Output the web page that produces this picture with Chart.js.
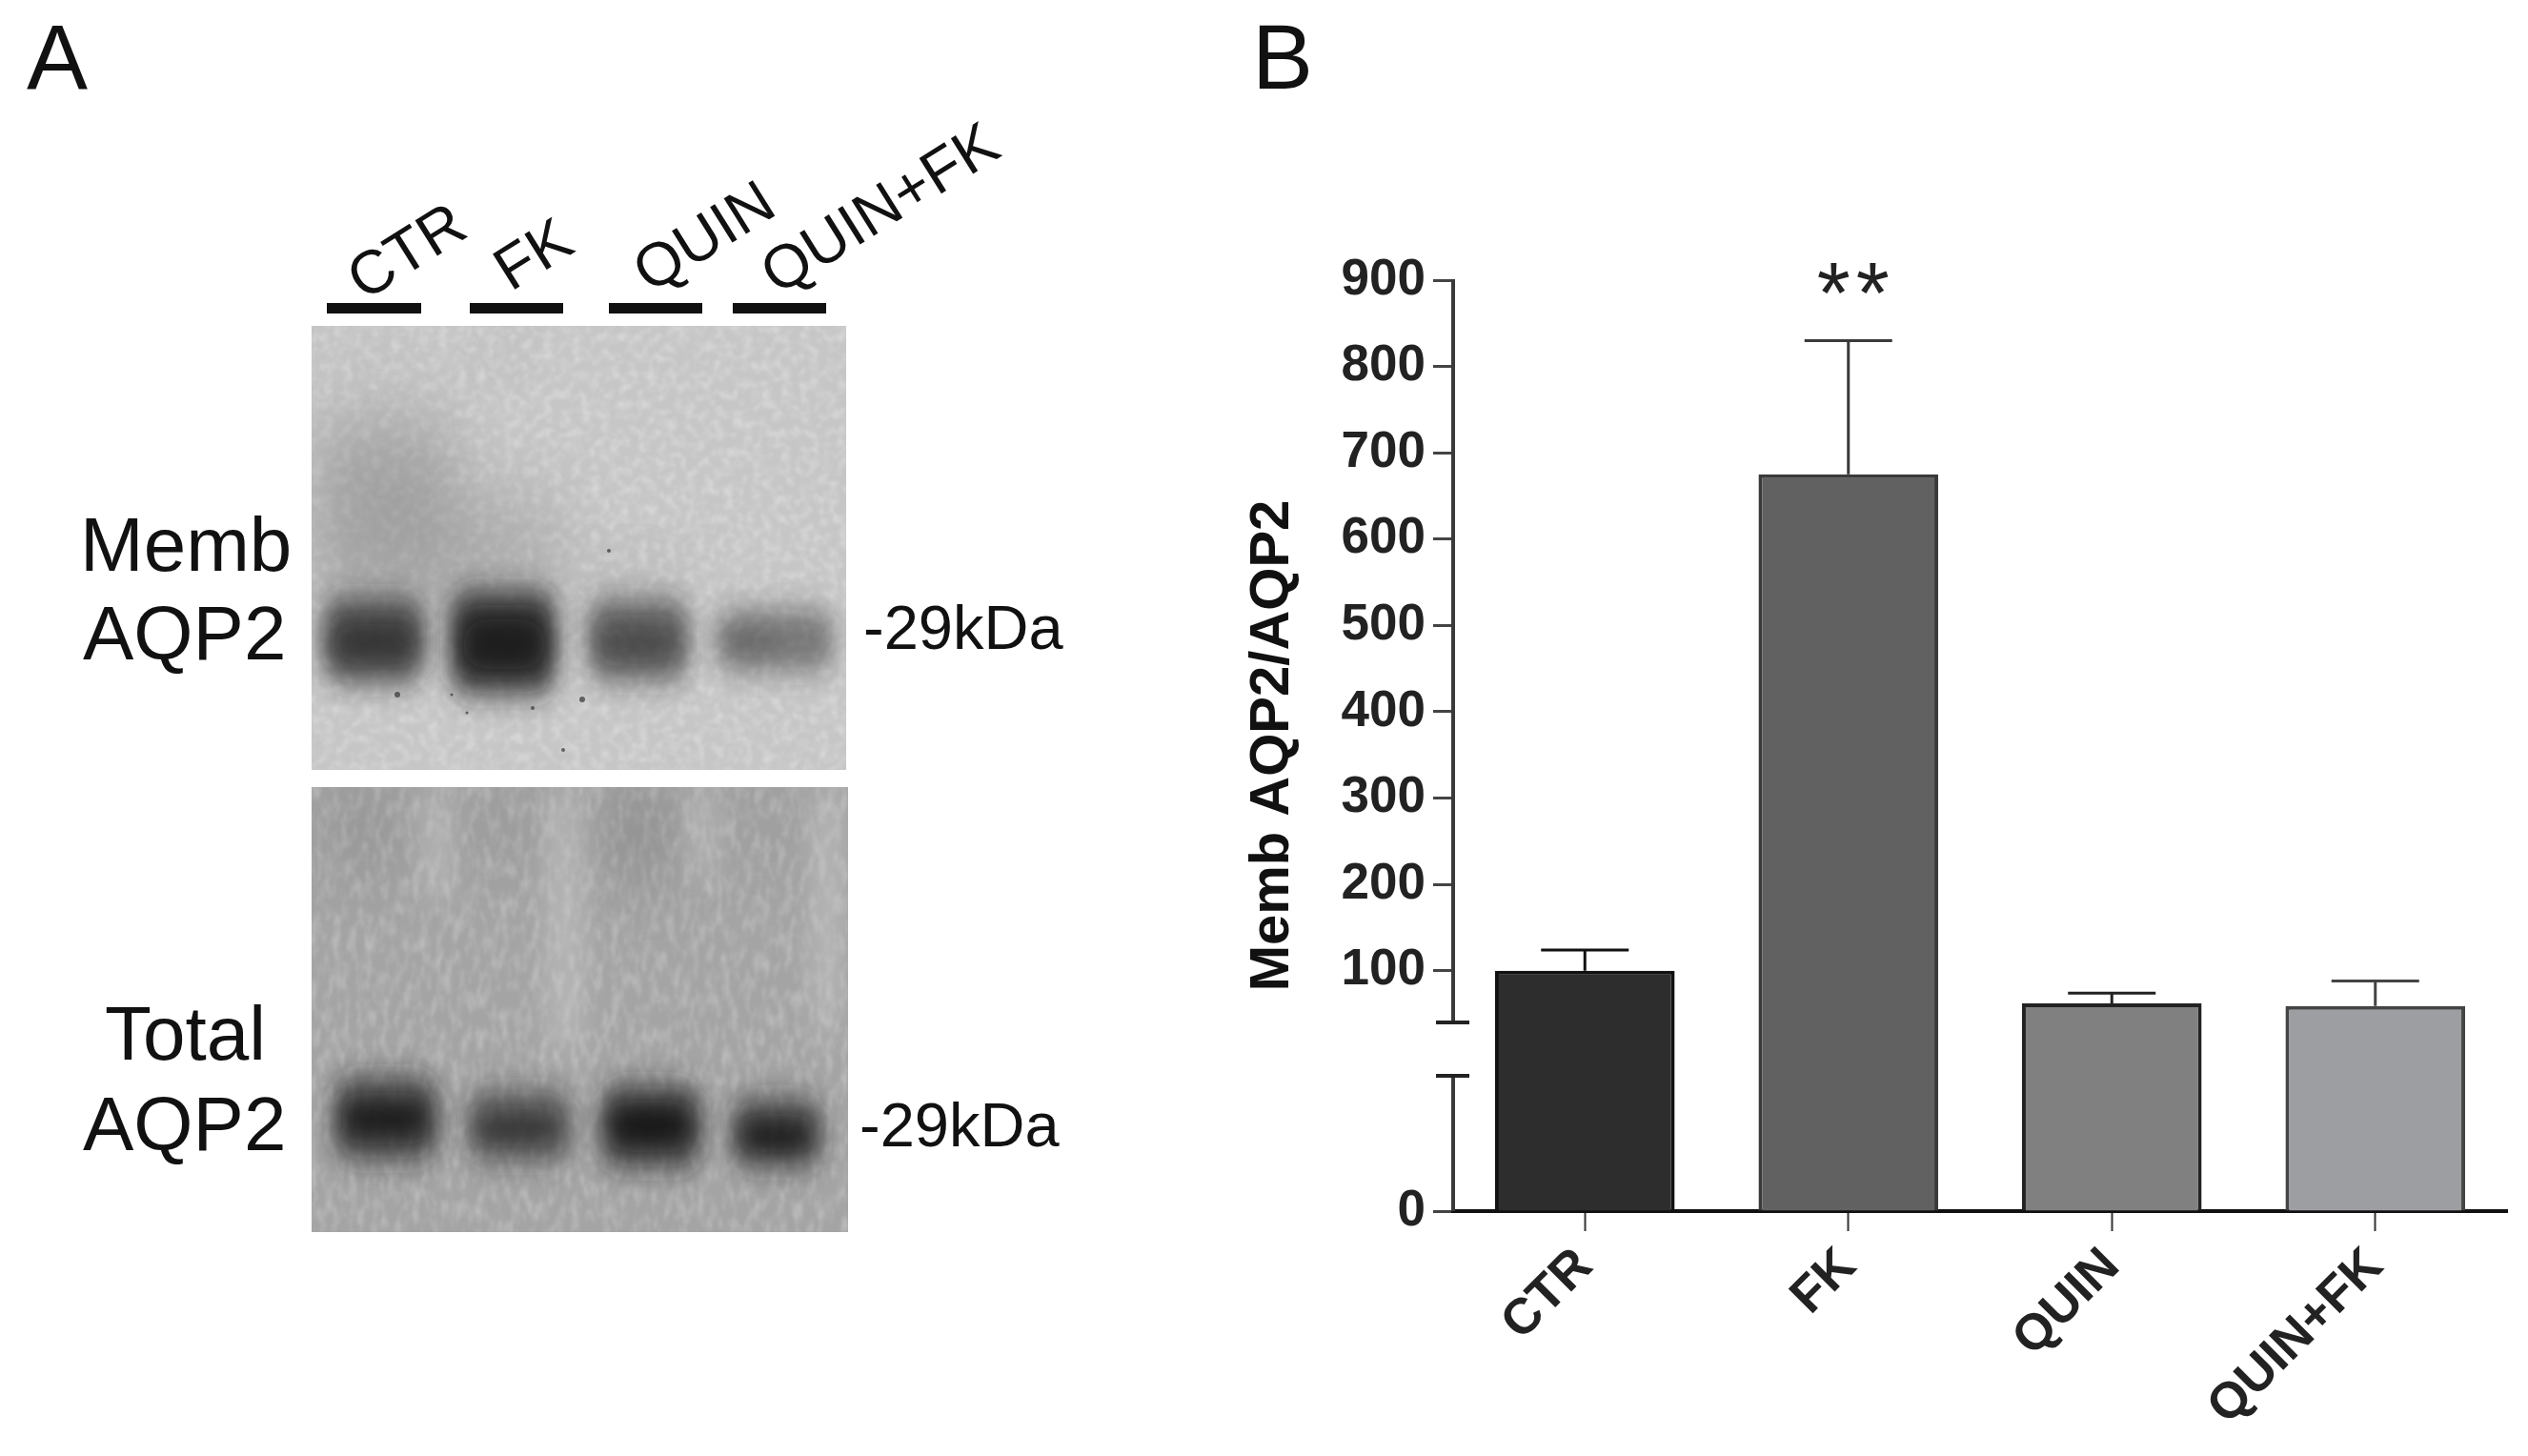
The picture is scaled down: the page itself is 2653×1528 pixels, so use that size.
<!DOCTYPE html>
<html>
<head>
<meta charset="utf-8">
<style>
  html, body { margin: 0; padding: 0; background: #fff; }
  #page { position: relative; width: 2653px; height: 1528px; overflow: hidden; font-family: "Liberation Sans", Arial, sans-serif; color: #111; }
  #chart { position: absolute; left: 0; top: 0; }
  #blot { position: absolute; left: 0; top: 0; }
  .t { position: absolute; white-space: nowrap; line-height: 1; }
</style>
<script src="https://cdn.jsdelivr.net/npm/chart.js@4"></script>
</head>
<body>
<div id="page">
  <svg id="blot" width="2653" height="1528" xmlns="http://www.w3.org/2000/svg"></svg>
  <canvas id="chart" width="2653" height="1528"></canvas>
</div>
<script>
const categories = ['CTR', 'FK', 'QUIN', 'QUIN+FK'];
const means = [100, 675, 62, 59];
const errorTops = [124, 830, 74, 88];
const barColors = ['#2d2d2d', '#616161', '#808080', '#9d9ea2'];
const barEdges = ['#111111', '#3a3a3a', '#222222', '#444444'];
const yTicks = [0, 100, 200, 300, 400, 500, 600, 700, 800, 900];
const yTitle = 'Memb AQP2/AQP2';
const sigLabel = '**';

// y axis is cut between 0 and 100: values under breakAt use the low segment
const breakAt = 40;
const lowShare = 142 / 977;   // share of axis height for 0..breakAt
const highShare = 779 / 977;  // share of axis height for breakAt..900

class BrokenScale extends Chart.LinearScale {
  getPixelForValue(value) {
    if (value === null || value === undefined) return NaN;
    let d;
    if (value < breakAt) d = (value / breakAt) * lowShare;
    else d = 1 - highShare + ((value - breakAt) / (this.max - breakAt)) * highShare;
    return this.getPixelForDecimal(d);
  }
  getValueForPixel(pixel) {
    const d = this.getDecimalForPixel(pixel);
    if (d < lowShare) return (d / lowShare) * breakAt;
    return breakAt + ((d - (1 - highShare)) / highShare) * (this.max - breakAt);
  }
}
BrokenScale.id = 'broken';
BrokenScale.defaults = Chart.LinearScale.defaults;
Chart.register(BrokenScale);

const axisAndErrors = {
  id: 'axisAndErrors',
  afterDatasetsDraw(chart) {
    const { ctx, scales: { x, y } } = chart;
    const left = chart.chartArea.left;
    ctx.save();
    // axis line in two pieces, with the two break marks
    const lowTop = y.getPixelForDecimal(lowShare);
    const highBottom = y.getPixelForDecimal(1 - highShare);
    ctx.strokeStyle = '#3a3a3a';
    ctx.lineWidth = 4;
    ctx.beginPath();
    ctx.moveTo(left, y.getPixelForValue(900) - 1);
    ctx.lineTo(left, highBottom);
    ctx.moveTo(left, lowTop);
    ctx.lineTo(left, y.getPixelForValue(0));
    ctx.stroke();
    ctx.strokeStyle = '#222';
    ctx.beginPath();
    ctx.moveTo(left - 18, highBottom); ctx.lineTo(left + 17, highBottom);
    ctx.moveTo(left - 18, lowTop); ctx.lineTo(left + 17, lowTop);
    ctx.stroke();

    // upper error whiskers
    errorTops.forEach((top, i) => {
      const cx = x.getPixelForValue(i);
      const yBar = y.getPixelForValue(means[i]);
      const yTop = y.getPixelForValue(top);
      ctx.strokeStyle = barEdges[i];
      ctx.lineWidth = 3;
      ctx.beginPath();
      ctx.moveTo(cx, yBar);
      ctx.lineTo(cx, yTop);
      ctx.moveTo(cx - 46, yTop);
      ctx.lineTo(cx + 46, yTop);
      ctx.stroke();
    });

    // significance stars over FK
    ctx.fillStyle = '#222';
    ctx.font = '90px "Liberation Sans"';
    ctx.letterSpacing = '6px';
    ctx.textAlign = 'center';
    ctx.textBaseline = 'alphabetic';
    ctx.fillText(sigLabel, x.getPixelForValue(1) + 8, y.getPixelForValue(900) + 45);
    ctx.restore();
  }
};

new Chart(document.getElementById('chart'), {
  type: 'bar',
  data: {
    labels: categories,
    datasets: [{
      data: means,
      backgroundColor: barColors,
      borderColor: barEdges,
      borderWidth: 4,
      categoryPercentage: 1,
      barPercentage: 0.682
    }]
  },
  plugins: [axisAndErrors],
  options: {
    responsive: false,
    animation: false,
    layout: { padding: { left: 1290, right: 22, top: 294, bottom: 0 } },
    plugins: { legend: { display: false }, tooltip: { enabled: false } },
    scales: {
      x: {
        afterFit: s => { s.height = 257; },
        grid: { display: true, offset: false, drawOnChartArea: false, drawTicks: true, tickLength: 21, tickWidth: 2, tickColor: '#333' },
        border: { display: true, color: '#111', width: 4 },
        ticks: {
          color: '#222', font: { family: 'Liberation Sans', size: 53, weight: 'bold' },
          minRotation: 45, maxRotation: 45, padding: 6, autoSkip: false
        }
      },
      y: {
        type: 'broken',
        min: 0,
        max: 900,
        afterFit: s => { s.width = 235; },
        afterBuildTicks: s => { s.ticks = yTicks.map(v => ({ value: v })); },
        grid: { display: true, drawOnChartArea: false, drawTicks: true, tickLength: 21, tickWidth: 3, tickColor: '#444' },
        border: { display: false },
        ticks: { color: '#222', font: { family: 'Liberation Sans', size: 53, weight: 'bold' }, padding: 8 },
        title: { display: true, text: yTitle, color: '#111', font: { family: 'Liberation Sans', size: 58, weight: 'bold' }, padding: { top: 11, bottom: 0 } }
      }
    }
  }
});

// panel A text and blot
const page = document.getElementById('page');
function text(str, x, baseline, size, rot) {
  const el = document.createElement('div');
  el.className = 't';
  el.textContent = str;
  el.style.fontSize = size + 'px';
  el.style.left = x + 'px';
  el.style.top = (baseline - size * 0.905 - (1 - 0.905 - 0.212) * size / 2) + 'px';
  if (rot) { el.style.transformOrigin = '0 90%'; el.style.transform = 'rotate(' + rot + 'deg)'; }
  page.appendChild(el);
}
text('A', 28, 93, 96);
text('B', 1314, 93, 96);
text('Memb', 84, 600, 80);
text('AQP2', 87, 693, 80);
text('-29kDa', 906, 681, 65);
text('Total', 110, 1113, 80);
text('AQP2', 87, 1208, 80);
text('-29kDa', 902, 1203, 65);
text('CTR', 384, 316, 64, -32);
text('FK', 538, 306, 64, -32);
text('QUIN', 684, 308, 64, -32);
text('QUIN+FK', 818, 310, 64, -32);

const laneBars = [[343, 442], [493, 591], [639, 737], [769, 867]];
// bands as x, y, w, h, opacity
const topBands = [
  [338, 628, 108, 88, 0.72], [472, 620, 112, 108, 0.86], [616, 630, 108, 84, 0.62], [750, 640, 126, 64, 0.48]
];
const topCores = [
  [352, 655, 84, 40, 0.3], [486, 650, 86, 52, 0.55], [632, 660, 76, 34, 0.2], [764, 660, 50, 28, 0.14]
];
const topHaze = [[327, 440, 150, 200, 0.42], [460, 520, 130, 120, 0.3], [600, 590, 130, 50, 0.18], [340, 345, 90, 24, 0.14], [500, 345, 50, 40, 0.18]];
const bottomBands = [
  [350, 1132, 110, 84, 0.78], [490, 1146, 110, 72, 0.62], [630, 1140, 106, 84, 0.82], [767, 1154, 96, 70, 0.74]
];
const bottomCores = [[362, 1160, 84, 30, 0.5], [504, 1170, 80, 28, 0.3], [642, 1164, 80, 34, 0.55], [778, 1178, 72, 30, 0.5]];
const bottomSmears = [[336, 830, 94, 80, 0.22], [482, 830, 88, 70, 0.16], [628, 830, 84, 90, 0.3], [762, 830, 76, 70, 0.12]];
const bottomStreaks = [[440, 830, 36, 110], [572, 830, 44, 270], [720, 830, 34, 90], [850, 830, 36, 250]];
const specks = [[417, 729, 3], [474, 729, 1.5], [611, 734, 3], [559, 743, 2], [591, 787, 2], [639, 578, 2], [490, 748, 1.5]];

const rect = (b, fill, flt) => `<rect x="${b[0]}" y="${b[1]}" width="${b[2]}" height="${b[3]}" rx="24" fill="${fill}" opacity="${b[4] === undefined ? 0.28 : b[4]}" filter="url(#${flt})"/>`;
let svg = `<defs>
<filter id="grainTop" x="0" y="0" width="100%" height="100%"><feTurbulence type="fractalNoise" baseFrequency="0.1" numOctaves="3" seed="4"/><feColorMatrix values="0 0 0 0 1  0 0 0 0 1  0 0 0 0 1  2.4 0 0 0 -1"/><feGaussianBlur stdDeviation="1.2"/></filter>
<filter id="grainBot" x="0" y="0" width="100%" height="100%"><feTurbulence type="fractalNoise" baseFrequency="0.12 0.05" numOctaves="3" seed="9"/><feColorMatrix values="0 0 0 0 1  0 0 0 0 1  0 0 0 0 1  2.4 0 0 0 -1"/><feGaussianBlur stdDeviation="1.2"/></filter>
<filter id="b1" x="-50%" y="-80%" width="200%" height="260%"><feGaussianBlur stdDeviation="11 16"/></filter>
<filter id="b3" x="-50%" y="-80%" width="200%" height="260%"><feGaussianBlur stdDeviation="12 11"/></filter>
<filter id="b2" x="-50%" y="-80%" width="200%" height="260%"><feGaussianBlur stdDeviation="30 42"/></filter>
<filter id="b4" x="-80%" y="-20%" width="260%" height="140%"><feGaussianBlur stdDeviation="10 24"/></filter>
<clipPath id="c1"><rect x="327" y="342" width="561" height="466"/></clipPath>
<clipPath id="c2"><rect x="327" y="826" width="563" height="467"/></clipPath>
</defs>`;
laneBars.forEach(b => { svg += `<rect x="${b[0]}" y="318" width="${b[1] - b[0]}" height="11" fill="#111"/>`; });
svg += `<g clip-path="url(#c1)"><rect x="327" y="342" width="561" height="466" fill="#c6c6c6"/>`;
svg += `<rect x="327" y="342" width="561" height="466" filter="url(#grainTop)" opacity="0.3"/>`;
topHaze.forEach(b => { svg += rect(b, '#6e6e6e', 'b2'); });
topBands.forEach(b => { svg += rect(b, '#1c1c1c', 'b1'); });
topCores.forEach(b => { svg += rect(b, '#080808', 'b3'); });
specks.forEach(s => { svg += `<circle cx="${s[0]}" cy="${s[1]}" r="${s[2]}" fill="#333" opacity="0.7"/>`; });
svg += `</g>`;
svg += `<g clip-path="url(#c2)"><rect x="327" y="826" width="563" height="467" fill="#a4a4a4"/>`;
svg += `<rect x="327" y="826" width="563" height="467" filter="url(#grainBot)" opacity="0.24"/>`;
bottomSmears.forEach(b => { svg += rect(b, '#555', 'b2'); });
bottomStreaks.forEach(b => { svg += `<rect x="${b[0]}" y="${b[1]}" width="${b[2]}" height="${b[3]}" fill="#d4d4d4" opacity="0.3" filter="url(#b4)"/>`; });
bottomBands.forEach(b => { svg += rect(b, '#1a1a1a', 'b1'); });
bottomCores.forEach(b => { svg += rect(b, '#050505', 'b3'); });
svg += `</g>`;
document.getElementById('blot').innerHTML = svg;
</script>
</body>
</html>
